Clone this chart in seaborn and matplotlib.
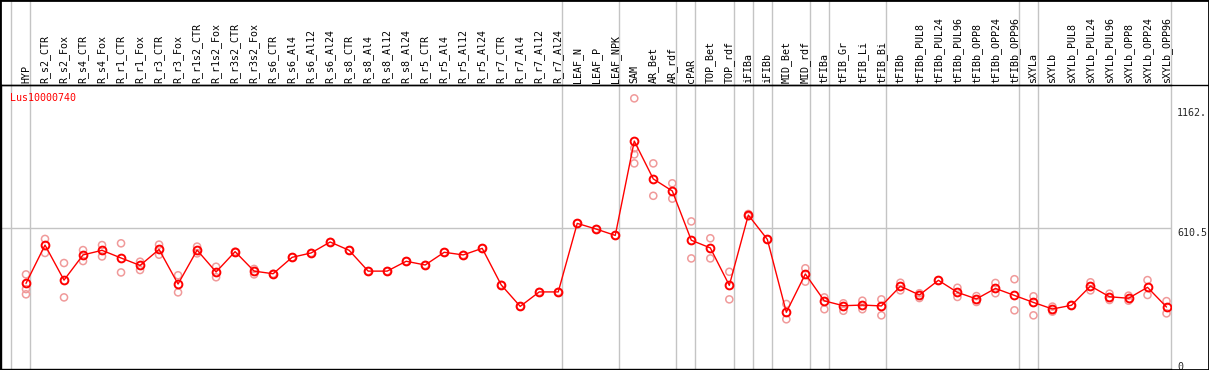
import numpy as np
import pandas as pd
import matplotlib
matplotlib.use("Agg")
import matplotlib.pyplot as plt
import seaborn as sns
from matplotlib.lines import Line2D
from matplotlib.patches import Rectangle

# ---------------- data ----------------
title = "Lus10000740"
categories = [
    "HYP", "R_s2_CTR", "R_s2_Fox", "R_s4_CTR", "R_s4_Fox", "R_r1_CTR", "R_r1_Fox",
    "R_r3_CTR", "R_r3_Fox", "R_r1s2_CTR", "R_r1s2_Fox", "R_r3s2_CTR", "R_r3s2_Fox",
    "R_s6_CTR", "R_s6_Al4", "R_s6_Al12", "R_s6_Al24", "R_s8_CTR", "R_s8_Al4",
    "R_s8_Al12", "R_s8_Al24", "R_r5_CTR", "R_r5_Al4", "R_r5_Al12", "R_r5_Al24",
    "R_r7_CTR", "R_r7_Al4", "R_r7_Al12", "R_r7_Al24", "LEAF_N", "LEAF_P", "LEAF_NPK",
    "SAM", "AR_Bet", "AR_rdf", "cPAR", "TOP_Bet", "TOP_rdf", "iFIBa", "iFIBb",
    "MID_Bet", "MID_rdf", "tFIBa", "tFIB_Gr", "tFIB_Li", "tFIB_Bi", "tFIBb",
    "tFIBb_PUL8", "tFIBb_PUL24", "tFIBb_PUL96", "tFIBb_OPP8", "tFIBb_OPP24",
    "tFIBb_OPP96", "sXYLa", "sXYLb", "sXYLb_PUL8", "sXYLb_PUL24", "sXYLb_PUL96",
    "sXYLb_OPP8", "sXYLb_OPP24", "sXYLb_OPP96",
]
means = [
    359, 534, 374, 489, 510, 475, 441, 514, 356, 511, 411, 504, 415,
    403, 478, 498, 548, 510, 415, 415, 460, 443, 501, 489, 519,
    352, 254, 320, 320, 633, 607, 578,
    1009, 836, 781, 556, 521, 350, 671, 560,
    227, 402, 279, 257, 260, 256, 346,
    306, 373, 318, 288, 336, 304,
    272, 242, 259, 347, 298, 291, 341, 251,
]
nan = np.nan
rep1 = [
    400, 562, 452, 511, 534, 542, 458, 536, 396, 527, 435, 504, 425,
    403, 478, 498, 548, 510, 415, 415, 460, 443, 501, 489, 519,
    352, 254, 320, 320, 633, 607, 578,
    1204, 907, 816, 642, 565, 412, 676, 560,
    265, 428, 295, 268, 280, 286, 362,
    314, 373, 339, 301, 361, 378,
    300, 253, 259, 364, 312, 303, 374, 278,
]
rep2 = [
    333, 498, 295, 461, 482, 409, 420, 490, 318, 496, 387, nan, 400,
    nan, nan, nan, nan, nan, nan, nan, nan, nan, nan, nan, nan,
    nan, nan, nan, nan, nan, nan, nan,
    976, 759, 746, 473, 473, 286, 666, nan,
    195, 367, 241, 234, 241, 213, 327,
    292, nan, 297, 274, 314, 236,
    213, 230, nan, 327, 283, 280, 306, 222,
]
rep3 = [309] + [nan] * 31 + [948] + [nan] * 28
rep4 = [nan] * 32 + [907] + [nan] * 28
group_ends = [-1, 0, 28, 31, 34, 35, 37, 38, 39, 41, 42, 45, 52, 53, 60]
ytick_vals = [0, 610.5, 1162]
ytick_labels = ["0", "610.5", "1162."]

# ---------------- frames ----------------
n = len(categories)
xpos = np.arange(n)
df_mean = pd.DataFrame({"x": xpos, "value": means})
df_rep = pd.DataFrame({
    "x": np.concatenate([xpos] * 4),
    "value": np.concatenate([rep1, rep2, rep3, rep4]),
}).dropna()

# ---------------- figure ----------------
sns.set_style("white")
plt.rcParams["font.family"] = ["DejaVu Sans Mono"]
W, H = 1209, 370
fig = plt.figure(figsize=(W / 100, H / 100), dpi=100)
left_px, right_px, top_px, bot_px = 1, 1170.7, 85, 369
ax = fig.add_axes([left_px / W, 1 - bot_px / H, (right_px - left_px) / W, (bot_px - top_px) / H])

grey = "#c4c4c4"
ax.axhline(610.5, color=grey, lw=1, zorder=0)
ax_h_px = bot_px - top_px
for g in group_ends:
    ax.axvline(g + 0.22, ymin=0, ymax=bot_px / ax_h_px, color=grey, lw=1,
               clip_on=False, zorder=0)

sns.scatterplot(data=df_rep, x="x", y="value", ax=ax, s=26, marker="o",
                facecolors="none", edgecolors="#f09a9a", linewidths=1.1,
                legend=False, zorder=2)
sns.lineplot(data=df_mean, x="x", y="value", ax=ax, color="red", lw=1,
             marker="o", markersize=5.6, markerfacecolor="none",
             markeredgecolor="red", markeredgewidth=1.4, zorder=3)

ax.set_xlim(-1.315, 60.22)
ax.set_ylim(-32, 1265)

# category labels on top
ax.xaxis.tick_top()
ax.set_xticks(xpos)
ax.set_xticklabels(categories, rotation=90, fontsize=7.2, color="black")
ax.tick_params(axis="x", length=0, pad=1.5)
for t in ax.get_xticklabels():
    t.set_va("bottom")

# value labels on the right
ax.yaxis.tick_right()
ax.set_yticks(ytick_vals)
ax.set_yticklabels(ytick_labels, fontsize=7.2)
ax.tick_params(axis="y", length=0, pad=4.5)
for t in ax.get_yticklabels():
    t.set_va("top")

ax.set_xlabel("")
ax.set_ylabel("")
for side in ["left", "bottom", "top"]:
    ax.spines[side].set_visible(True)
    ax.spines[side].set_color("black")
    ax.spines[side].set_linewidth(1)
ax.spines["right"].set_visible(False)

ax.text(0.0077, 0.972, title, transform=ax.transAxes, color="red",
        fontsize=7.2, va="top", ha="left")

# figure frame and header separator
fig.add_artist(Rectangle((0, 0), 1, 1, transform=fig.transFigure, fill=False,
                         ec="black", lw=2))
fig.add_artist(Line2D([0, 1], [1 - top_px / H] * 2, transform=fig.transFigure,
                      color="black", lw=1))

fig.savefig("out.png", dpi=100)
